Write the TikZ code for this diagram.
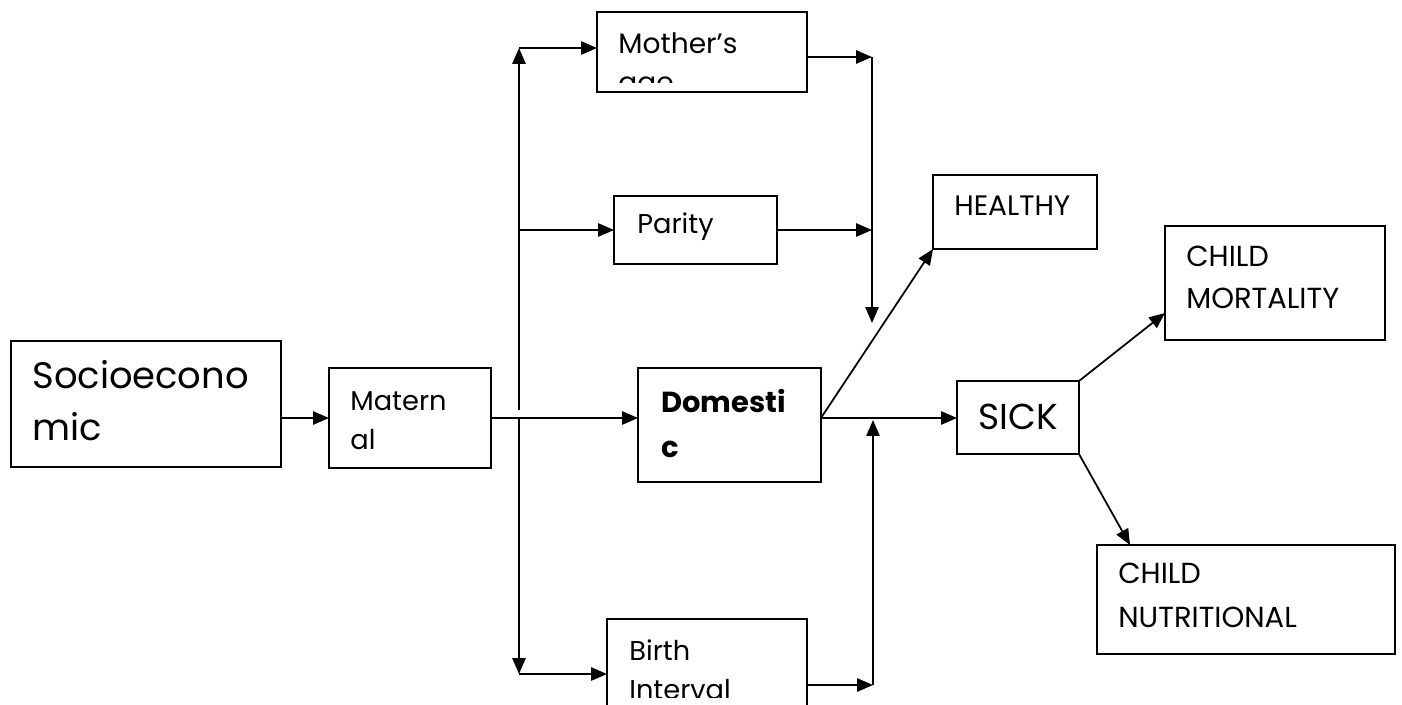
\documentclass[tikz,border=0pt]{standalone}
\usepackage{fontspec}
\setmainfont{Poppins}
\usetikzlibrary{arrows.meta,positioning}
\tikzset{
  box/.style  ={draw,line width=1pt,inner sep=0pt,outer sep=0pt,anchor=north west},
  lbl/.style  ={inner sep=0pt,anchor=base west,align=left},
  small/.style={lbl,font=\fontsize{15.5}{22}\selectfont},
  caps/.style ={lbl,font=\fontsize{16.5}{23.5}\selectfont},
  arr/.style  ={-{Triangle[length=9pt,width=7.5pt]},line width=1pt},
}

\begin{document}
\begin{tikzpicture}[x=0.02cm,y=-0.02cm]
  \clip (0,0) rectangle (1402,704);
  \fill[white] (0,0) rectangle (1402,704);
  % boxes
  \node[box,minimum width=5.4cm, minimum height=2.52cm] (socio)    at (11,341)   {};
  \node[box,minimum width=3.24cm,minimum height=2.0cm]  (maternal) at (329,368)  {};
  \node[box,minimum width=4.2cm, minimum height=1.6cm]  (mother)   at (597,12)   {};
  \node[box,minimum width=3.26cm,minimum height=1.36cm] (parity)   at (614,196)  {};
  \node[box,minimum width=3.66cm,minimum height=2.28cm] (domestic) at (638,368)  {};
  \node[box,minimum width=4.0cm, minimum height=2.2cm]  (birth)    at (607,619)  {};
  \node[box,minimum width=3.28cm,minimum height=1.48cm] (healthy)  at (933,175)  {};
  \node[box,minimum width=2.44cm,minimum height=1.46cm] (sick)     at (957,381)  {};
  \node[box,minimum width=4.4cm, minimum height=2.28cm] (mortality) at (1165,226) {};
  \node[box,minimum width=5.96cm,minimum height=2.18cm] (nutri)    at (1097,545) {};

  % texts (base = last line)
  \node[lbl,font=\fontsize{21}{29.5}\selectfont] (sociotxt) at ([shift={(21,99)}]socio.north west) {Socioecono\\mic};
  \node[small] (maternaltxt) at ([shift={(21,81)}]maternal.north west) {Matern\\al};
  \begin{scope}
    \clip (mother.north west) rectangle ([shift={(0,-9)}]mother.south east);
    \node[small,font=\fontsize{16}{22}\selectfont] (mothertxt) at ([shift={(21,80)}]mother.north west) {Mother’s\\age};
  \end{scope}
  \node[small] (paritytxt) at ([shift={(23,37)}]parity.north west) {Parity};
  \node[lbl,font=\fontsize{16.5}{25.5}\selectfont\bfseries] (domestictxt) at ([shift={(23,89)}]domestic.north west) {Domesti\\c};
  \begin{scope}
    \clip (birth.north west) rectangle (807,697);
    \node[small] (birthtxt) at ([shift={(22,80)}]birth.north west) {Birth\\Interval};
  \end{scope}
  \node[lbl,font=\fontsize{16}{20}\selectfont] (healthytxt) at ([shift={(21,40)}]healthy.north west) {HEALTHY};
  \node[lbl,font=\fontsize{20.5}{25}\selectfont] (sicktxt) at ([shift={(21,48)}]sick.north west) {SICK};
  \node[caps] (mortalitytxt) at ([shift={(21,82)}]mortality.north west) {CHILD\\MORTALITY};
  \node[caps,font=\fontsize{16.5}{25}\selectfont] (nutritxt) at ([shift={(21,82)}]nutri.north west) {CHILD\\NUTRITIONAL};

  % fork after maternal
  \coordinate (fork)  at (519,419);
  \coordinate (forkA) at (519,410);
  \coordinate (forkT) at (519,48);
  \coordinate (forkB) at (519,674);
  \draw[arr] (socio.east |- maternal) -- (maternal);
  \draw[arr] (maternal.east) -- (maternal.east -| domestic.west);
  \draw[arr] (forkA) -- (forkT);
  \draw[arr] (forkT) -- (forkT -| mother.west);
  \draw[arr] (forkT |- parity) -- (parity.west);
  \draw[arr] (fork) -- (forkB);
  \draw[arr] (forkB) -- (forkB -| birth.west);

  % collectors into domestic line
  \coordinate (joinT) at (872,57);
  \coordinate (joinM) at (872,323);
  \coordinate (joinB) at (873,685);
  \coordinate (joinU) at (873,420);
  \draw[arr] (joinT -| mother.east) -- (joinT);
  \draw[arr] (parity.east) -- (parity.east -| joinT);
  \draw[arr] (joinT) -- (joinM);
  \draw[arr] (joinB -| birth.east) -- (joinB);
  \draw[arr] (joinB) -- (joinU);

  % outcomes
  \coordinate (dout) at (domestic.east |- maternal.east);
  \draw[arr] (dout) -- (dout -| sick.west);
  \draw[arr] (dout) -- (healthy.south west);
  \draw[arr] (sick.north east) -- ([shift={(0,-27)}]mortality.south west);
  \draw[arr] (sick.south east) -- ([shift={(33,0)}]nutri.north west);
\end{tikzpicture}
\end{document}
